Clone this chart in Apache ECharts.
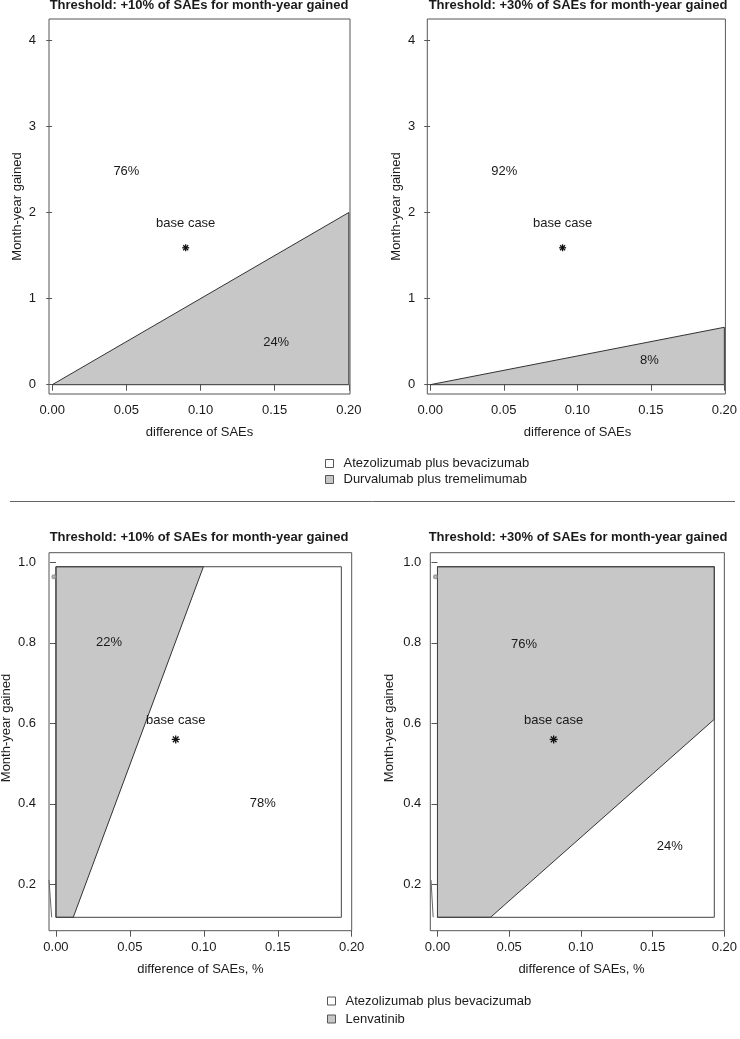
<!DOCTYPE html>
<html><head><meta charset="utf-8">
<script src="https://cdn.jsdelivr.net/npm/echarts@6/dist/echarts.min.js"></script>
<style>html,body{margin:0;padding:0;background:#fff}#c{width:740px;height:1039px}</style>
</head><body><div id="c"></div>
<script>
// ---------------- data ----------------
const panelTitles = [
  'Threshold: +10% of SAEs for month-year gained',
  'Threshold: +30% of SAEs for month-year gained',
  'Threshold: +10% of SAEs for month-year gained',
  'Threshold: +30% of SAEs for month-year gained'
];
const xTickValues = [0, 0.05, 0.10, 0.15, 0.20];
const xTickLabels = ['0.00', '0.05', '0.10', '0.15', '0.20'];
const yTickValuesTop = [0, 1, 2, 3, 4];
const yTickLabelsTop = ['0', '1', '2', '3', '4'];
const yTickValuesBottom = [0.2, 0.4, 0.6, 0.8, 1.0];
const yTickLabelsBottom = ['0.2', '0.4', '0.6', '0.8', '1.0'];
const xAxisTitleTop = 'difference of SAEs';
const xAxisTitleBottom = 'difference of SAEs, %';
const yAxisTitle = 'Month-year gained';
const legendTop = ['Atezolizumab plus bevacizumab', 'Durvalumab plus tremelimumab'];
const legendBottom = ['Atezolizumab plus bevacizumab', 'Lenvatinib'];

// decision regions (x = difference of SAEs, y = month-year gained)
const durvaRegion10 = [[0, 0], [0.2, 2], [0.2, 0]];
const durvaRegion30 = [[0, 0], [0.2, 0.667], [0.2, 0]];
const atezoRegionTop10 = [[0, 0], [0, 4.2], [0.2, 4.2], [0.2, 2]];
const atezoRegionTop30 = [[0, 0], [0, 4.2], [0.2, 4.2], [0.2, 0.667]];
const lenvaRegion10 = [[0, 0.118], [0, 0.989], [0.0997, 0.989], [0.0117, 0.118]];
const lenvaRegion30 = [[0, 0.118], [0, 0.989], [0.193, 0.989], [0.193, 0.61], [0.037, 0.118]];
const atezoRegionBottom10 = [[0.0117, 0.118], [0.0997, 0.989], [0.193, 0.989], [0.193, 0.118]];
const atezoRegionBottom30 = [[0.037, 0.118], [0.193, 0.61], [0.193, 0.118]];
const contourFrame = [[0, 0.118], [0, 0.989], [0.193, 0.989], [0.193, 0.118]];
const strayLineBL = [[-0.0047, 0.2107], [-0.0029, 0.118]];
const strayLineBR = [[-0.0045, 0.2107], [-0.0030, 0.118]];
const strayDot = [[-0.0014, 0.964]];

// base case points and labels
const baseCaseTop = [[0.09, 1.59]];
const baseCaseBottom = [[0.081, 0.56]];
const baseCaseLabelTop = [[0.09, 1.87, 'base case']];
const baseCaseLabelBottom = [[0.081, 0.607, 'base case']];

// share labels
const shareLabelsTL = [[0.050, 2.48, '76%'], [0.151, 0.49, '24%']];
const shareLabelsTR = [[0.0504, 2.48, '92%'], [0.149, 0.287, '8%']];
const shareLabelsBL = [[0.0359, 0.80, '22%'], [0.1398, 0.401, '78%']];
const shareLabelsBR = [[0.0603, 0.797, '76%'], [0.162, 0.295, '24%']];

// ---------------- layout ----------------
const FONT = '"Liberation Sans", Arial, Helvetica, sans-serif';
const TXT = '#1a1a1a';
const GRAYFILL = '#c6c7c6';

const panels = [
  {grid: {left: 49, top: 19, width: 301, height: 375}, x: [-0.0022, 0.2008], y: [-0.108, 4.247],
   yt: yTickValuesTop, ytl: yTickLabelsTop, ylm: 13, titleX: 199, titleY: -1,
   xName: xAxisTitleTop, xNameY: 432, yNameX: 17, yNameY: 206.5,
   white: atezoRegionTop10, gray: durvaRegion10, grayName: legendTop[1], labels: shareLabelsTL,
   base: baseCaseTop, baseLabel: baseCaseLabelTop, starR: 3.5},
  {grid: {left: 427.3, top: 19, width: 300.4, height: 375}, x: [-0.002, 0.2007], y: [-0.108, 4.247],
   yt: yTickValuesTop, ytl: yTickLabelsTop, ylm: 12, titleX: 578, titleY: -1,
   xName: xAxisTitleTop, xNameY: 432, yNameX: 396, yNameY: 206.5,
   white: atezoRegionTop30, gray: durvaRegion30, grayName: legendTop[1], labels: shareLabelsTR,
   base: baseCaseTop, baseLabel: baseCaseLabelTop, starR: 3.5},
  {grid: {left: 49, top: 552.7, width: 302.7, height: 378}, x: [-0.0047, 0.2], y: [0.0847, 1.0239],
   yt: yTickValuesBottom, ytl: yTickLabelsBottom, ylm: 13, titleX: 199, titleY: 531,
   xName: xAxisTitleBottom, xNameY: 969, yNameX: 6, yNameY: 728,
   white: atezoRegionBottom10, gray: lenvaRegion10, grayName: legendBottom[1], labels: shareLabelsBL,
   base: baseCaseBottom, baseLabel: baseCaseLabelBottom, starR: 4, frame: contourFrame, stray: strayLineBL},
  {grid: {left: 430.3, top: 552.7, width: 302.4, height: 378}, x: [-0.005, 0.2], y: [0.0847, 1.0239],
   yt: yTickValuesBottom, ytl: yTickLabelsBottom, ylm: 9, titleX: 578, titleY: 531,
   xName: xAxisTitleBottom, xNameY: 969, yNameX: 389, yNameY: 728,
   white: atezoRegionBottom30, gray: lenvaRegion30, grayName: legendBottom[1], labels: shareLabelsBR,
   base: baseCaseBottom, baseLabel: baseCaseLabelBottom, starR: 4, frame: contourFrame, stray: strayLineBR}
];

function polygonSeries(name, idx, pts, fill, stroke, z) {
  return {
    type: 'custom', name: name, xAxisIndex: idx, yAxisIndex: idx, z: z, silent: true,
    itemStyle: {color: fill === 'none' ? '#fff' : fill},
    data: [[pts[0][0], pts[0][1]]],
    renderItem: function (params, api) {
      return {
        type: 'polygon',
        shape: {points: pts.map(function (p) { return api.coord(p); })},
        style: {fill: fill, stroke: stroke, lineWidth: 1}
      };
    }
  };
}
function textSeries(idx, items, size) {
  return {
    type: 'custom', xAxisIndex: idx, yAxisIndex: idx, z: 6, silent: true,
    data: items.map(function (d) { return [d[0], d[1]]; }),
    renderItem: function (params, api) {
      const pt = api.coord([api.value(0), api.value(1)]);
      return {
        type: 'text', x: pt[0], y: pt[1],
        style: {text: items[params.dataIndex][2], fill: TXT, font: size + 'px ' + FONT,
                align: 'center', verticalAlign: 'middle', textAlign: 'center', textVerticalAlign: 'middle'}
      };
    }
  };
}
function starSeries(idx, pts, r) {
  return {
    type: 'custom', xAxisIndex: idx, yAxisIndex: idx, z: 7, silent: true,
    data: pts,
    renderItem: function (params, api) {
      const c = api.coord([api.value(0), api.value(1)]);
      const d = r * 0.7071;
      const st = {stroke: '#111', lineWidth: 1.3};
      return {type: 'group', children: [
        {type: 'line', shape: {x1: c[0] - r, y1: c[1], x2: c[0] + r, y2: c[1]}, style: st},
        {type: 'line', shape: {x1: c[0], y1: c[1] - r, x2: c[0], y2: c[1] + r}, style: st},
        {type: 'line', shape: {x1: c[0] - d, y1: c[1] - d, x2: c[0] + d, y2: c[1] + d}, style: st},
        {type: 'line', shape: {x1: c[0] - d, y1: c[1] + d, x2: c[0] + d, y2: c[1] - d}, style: st}
      ]};
    }
  };
}

const grids = [], xAxes = [], yAxes = [], series = [], titles = [], graphics = [];
panels.forEach(function (p, i) {
  grids.push(Object.assign({show: true, borderColor: '#555', borderWidth: 1, backgroundColor: 'transparent'}, p.grid));
  xAxes.push({
    gridIndex: i, type: 'value', min: p.x[0], max: p.x[1],
    axisLine: {show: false}, splitLine: {show: false},
    axisTick: {show: true, length: 6, inside: false, lineStyle: {color: '#555'}, customValues: xTickValues},
    axisLabel: {show: true, customValues: xTickValues, margin: 10, fontSize: 13, fontFamily: FONT, color: TXT,
      formatter: function (v) { const k = xTickValues.findIndex(function (t) { return Math.abs(t - v) < 1e-9; }); return k >= 0 ? xTickLabels[k] : ''; }}
  });
  yAxes.push({
    gridIndex: i, type: 'value', min: p.y[0], max: p.y[1],
    axisLine: {show: false}, splitLine: {show: false},
    axisTick: {show: true, length: 6, lineStyle: {color: '#555'}, customValues: p.yt},
    axisLabel: {show: true, customValues: p.yt, margin: p.ylm, fontSize: 13, fontFamily: FONT, color: TXT,
      formatter: function (v) { const k = p.yt.findIndex(function (t) { return Math.abs(t - v) < 1e-9; }); return k >= 0 ? p.ytl[k] : ''; }}
  });
  series.push(polygonSeries(legendTop[0], i, p.white, '#ffffff', 'none', 1));
  series.push(polygonSeries(p.grayName, i, p.gray, GRAYFILL, '#333', 2));
  if (p.frame) {
    series.push(polygonSeries(null, i, p.frame, 'none', '#444', 3));
    series.push({type: 'line', xAxisIndex: i, yAxisIndex: i, data: p.stray, symbol: 'none', silent: true, z: 3,
                 lineStyle: {color: '#666', width: 1}});
    series.push({type: 'scatter', xAxisIndex: i, yAxisIndex: i, data: strayDot, symbol: 'emptyCircle', symbolSize: 3, silent: true, z: 3,
                 itemStyle: {color: '#888', borderColor: '#888', borderWidth: 0.8}});
  }
  series.push(textSeries(i, p.labels, 13));
  series.push(textSeries(i, p.baseLabel, 13));
  series.push(starSeries(i, p.base, p.starR));

  titles.push({text: panelTitles[i], left: p.titleX, top: p.titleY, textAlign: 'center', padding: 0,
               textStyle: {fontSize: 13, fontWeight: 'bold', fontFamily: FONT, color: TXT}});
  graphics.push({type: 'text', x: p.grid.left + p.grid.width / 2, y: p.xNameY,
                 style: {text: p.xName, fill: TXT, font: '13px ' + FONT, align: 'center', verticalAlign: 'middle', textAlign: 'center', textVerticalAlign: 'middle'}});
  graphics.push({type: 'text', x: p.yNameX, y: p.yNameY, rotation: Math.PI / 2,
                 style: {text: yAxisTitle, fill: TXT, font: '13px ' + FONT, align: 'center', verticalAlign: 'middle', textAlign: 'center', textVerticalAlign: 'middle'}});
});
graphics.push({type: 'line', shape: {x1: 10, y1: 501.5, x2: 735, y2: 501.5}, style: {stroke: '#666', lineWidth: 1}});

const legendCommon = {
  orient: 'vertical', icon: 'rect', itemWidth: 8, itemHeight: 8, padding: 0, selectedMode: false,
  itemStyle: {borderColor: '#555', borderWidth: 1},
  textStyle: {fontSize: 13, fontFamily: FONT, color: TXT, lineHeight: 14, padding: [0, 0, 0, 5]}
};

const chart = echarts.init(document.getElementById('c'), null, {renderer: 'canvas'});
chart.setOption({
  animation: false,
  backgroundColor: '#fff',
  title: titles,
  grid: grids,
  xAxis: xAxes,
  yAxis: yAxes,
  legend: [
    Object.assign({}, legendCommon, {left: 325, top: 456.5, itemGap: 2, data: legendTop}),
    Object.assign({}, legendCommon, {left: 327, top: 994, itemGap: 4, data: legendBottom})
  ],
  graphic: graphics,
  series: series
});
</script>
</body></html>
